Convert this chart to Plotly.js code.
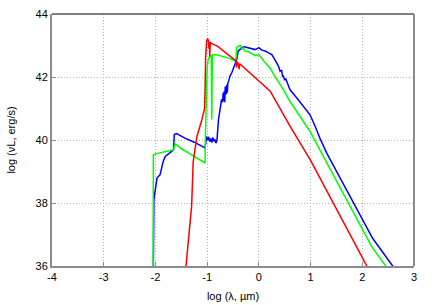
<!DOCTYPE html>
<html>
<head>
<meta charset="utf-8">
<script src="https://cdn.plot.ly/plotly-3.0.1.min.js"></script>
<style>html,body{margin:0;padding:0;background:#fff;}#chart{width:436px;height:305px;}</style>
</head>
<body>
<div id="chart"></div>
<script>
// log(lambda, um) and log(nuL, erg/s)
const redX = [-1.42, -1.41, -1.33, -1.30, -1.27, -1.20, -1.10, -1.05, -1.04, -1.03, -1.01, -0.99, -0.975, -0.965, -0.955, -0.95, -0.94, -0.90, -0.80, -0.70, -0.60, -0.50, -0.45, -0.43, -0.42, -0.40, -0.38, -0.37, -0.35, -0.20, -0.05, 0.10, 0.22, 0.60, 1.00, 2.12];
const redY = [35.8, 36.0, 37.47, 37.9, 39.3, 40.1, 40.65, 41.0, 41.6, 42.6, 43.15, 43.22, 43.15, 42.9, 43.12, 42.65, 43.1, 43.05, 42.98, 42.84, 42.71, 42.58, 42.52, 42.3, 42.48, 42.44, 42.25, 42.42, 42.39, 42.17, 41.97, 41.74, 41.55, 40.45, 39.35, 35.9];

const greenX = [-2.045, -2.04, -2.0, -1.9, -1.81, -1.70, -1.65, -1.62, -1.50, -1.30, -1.10, -1.04, -1.035, -1.03, -1.02, -1.01, -1.00, -0.98, -0.95, -0.92, -0.91, -0.90, -0.88, -0.80, -0.70, -0.59, -0.50, -0.46, -0.44, -0.43, -0.40, -0.36, -0.33, -0.30, -0.27, -0.20, -0.07, 0.0, 0.1, 0.217, 0.31, 0.475, 0.6, 0.797, 0.99, 1.18, 2.18, 2.47];
const greenY = [35.8, 39.53, 39.56, 39.6, 39.64, 39.67, 39.69, 39.88, 39.73, 39.53, 39.33, 39.27, 40.0, 40.43, 40.55, 41.6, 42.3, 42.55, 42.66, 42.68, 40.65, 42.7, 42.71, 42.7, 42.66, 42.6, 42.55, 42.5, 42.6, 42.93, 42.98, 43.0, 42.88, 42.92, 42.82, 42.8, 42.68, 42.71, 42.5, 42.29, 42.02, 41.6, 41.23, 40.75, 40.27, 39.69, 36.62, 35.96];

const blueX = [-2.045, -2.04, -2.03, -1.97, -1.91, -1.85, -1.81, -1.65, -1.635, -1.59, -1.43, -1.25, -1.04, -1.03, -1.01, -0.99, -0.97, -0.95, -0.93, -0.91, -0.89, -0.87, -0.85, -0.83, -0.81, -0.78, -0.75, -0.72, -0.70, -0.69, -0.68, -0.67, -0.66, -0.65, -0.63, -0.62, -0.61, -0.60, -0.58, -0.56, -0.52, -0.49, -0.46, -0.43, -0.40, -0.37, -0.33, -0.28, -0.23, -0.15, -0.07, 0.0, 0.05, 0.13, 0.20, 0.25, 0.31, 0.35, 0.38, 0.41, 0.44, 0.46, 0.475, 0.50, 0.52, 0.54, 0.6, 0.73, 0.86, 0.99, 1.09, 1.18, 1.31, 2.20, 2.61];
const blueY = [35.8, 36.0, 38.1, 38.79, 38.9, 39.32, 39.48, 39.69, 40.17, 40.2, 40.06, 39.93, 39.75, 39.95, 40.11, 40.0, 40.1, 39.95, 40.05, 39.92, 40.08, 39.96, 40.02, 39.9, 40.0, 40.65, 41.07, 41.3, 41.2, 41.5, 41.25, 41.55, 41.2, 41.7, 41.45, 41.75, 41.5, 41.8, 41.9, 42.02, 42.15, 42.29, 42.4, 42.55, 42.82, 42.88, 42.93, 42.96, 42.94, 42.92, 42.87, 42.93, 42.86, 42.82, 42.76, 42.71, 42.55, 42.45, 42.34, 42.18, 42.22, 42.0, 42.02, 41.9, 41.95, 41.86, 41.6, 41.34, 41.07, 40.8, 40.43, 40.06, 39.59, 36.88, 35.95];

const xTicks = [-4, -3, -2, -1, 0, 1, 2, 3];
const yTicks = [36, 38, 40, 42, 44];
const xTitle = 'log (λ, µm)';
const yTitle = 'log (νL, erg/s)';

const font = {family: 'Liberation Sans, Arial, sans-serif', size: 11, color: '#000'};
const mk = (x, y, c) => ({x: x, y: y, type: 'scatter', mode: 'lines', line: {color: c, width: 1.5}, hoverinfo: 'skip', showlegend: false});

const axisCommon = {
  showline: true, linecolor: '#8c8c8c', linewidth: 2, mirror: false,
  ticks: 'inside', ticklen: 4, tickcolor: '#8c8c8c', tickwidth: 1,
  showgrid: true, gridcolor: '#b4b4b4', griddash: '1px,2px', gridwidth: 1,
  zeroline: false, tickfont: font
};

const layout = {
  width: 436, height: 305,
  margin: {l: 52, r: 22, t: 14, b: 39},
  paper_bgcolor: '#fff', plot_bgcolor: '#fff',
  font: font,
  showlegend: false,
  xaxis: Object.assign({}, axisCommon, {
    range: [-4, 3], tickmode: 'array', tickvals: xTicks, ticktext: xTicks.map(String),
    title: {text: xTitle, font: font, standoff: 10}
  }),
  yaxis: Object.assign({}, axisCommon, {
    range: [36, 44], tickmode: 'array', tickvals: yTicks, ticktext: yTicks.map(String),
    title: {text: yTitle, font: font, standoff: 18}
  }),
  shapes: [
    {type: 'line', xref: 'paper', yref: 'paper', x0: 0, x1: 1, y0: 1, y1: 1, line: {color: '#000', width: 1}, layer: 'above'},
    {type: 'line', xref: 'paper', yref: 'paper', x0: 1, x1: 1, y0: 0, y1: 1, line: {color: '#8c8c8c', width: 2}, layer: 'above'}
  ]
};

Plotly.newPlot('chart', [mk(blueX, blueY, '#0000ff'), mk(greenX, greenY, '#00ff00'), mk(redX, redY, '#ff0000')], layout, {staticPlot: true, displayModeBar: false});
</script>
</body>
</html>
